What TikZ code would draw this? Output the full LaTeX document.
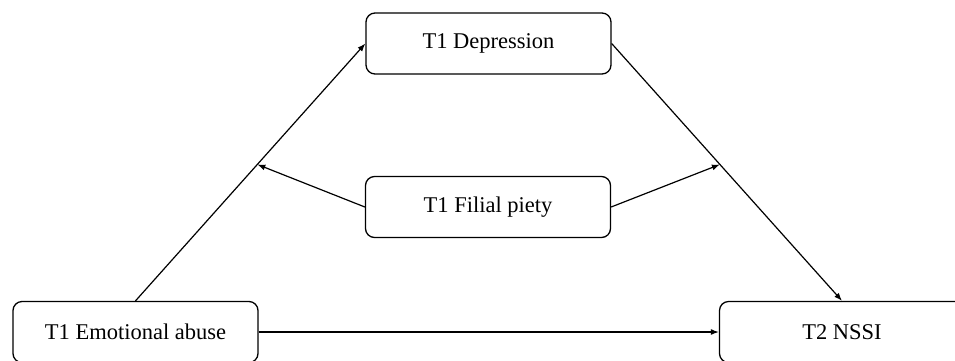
\documentclass[tikz,border=0pt]{standalone}
\usepackage{fontspec}
\setmainfont{Liberation Serif}
\usetikzlibrary{arrows.meta}
\begin{document}
\begin{tikzpicture}[x=1pt,y=-1pt,
  box/.style={draw, line width=1.3pt, rounded corners=9pt, minimum width=245pt, minimum height=61pt, inner sep=0pt, font=\fontsize{22.5}{26}\selectfont},
  arr/.style={line width=1.2pt, -{Latex[length=8pt,width=6pt]}}]
\useasboundingbox (0,0) rectangle (955,360);
\node[box] (dep) at (488.5,43.5) {T1 Depression};
\node[box] (fil) at (488,207) {T1 Filial piety};
\node[box] (ea) at (135.5,332) {T1 Emotional abuse};
\node[box] (ns) at (842,332) {T2 NSSI};
\draw[arr] (ea.north) -- (dep.west);
\draw[arr] (dep.east) -- (ns.north);
\draw[arr] (ea.east) -- (ns.west);
\path (ea.north) -- (dep.west) coordinate[pos=0.53] (m1);
\path (dep.east) -- (ns.north) coordinate[pos=0.47] (m2);
\draw[arr] (fil.west) -- (m1);
\draw[arr] (fil.east) -- (m2);
\end{tikzpicture}
\end{document}
